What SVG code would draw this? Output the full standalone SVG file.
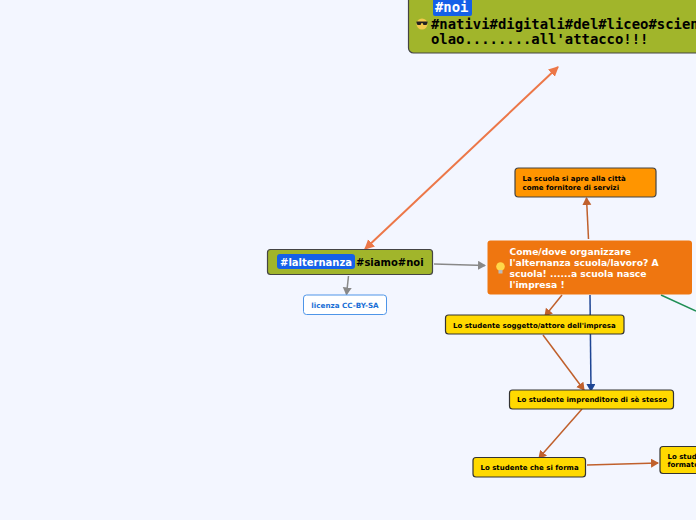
<svg xmlns="http://www.w3.org/2000/svg" width="696" height="520" viewBox="0 0 696 520">
<style>
.b{font-family:"DejaVu Sans",sans-serif;font-weight:700}
.s{font-size:7px;fill:#000}
.m{font-family:"DejaVu Sans Mono",monospace;font-weight:700;font-size:13.900px;fill:#000}
.n{stroke:#444;stroke-width:1.2}
.y{fill:#ffd900;stroke:#333;stroke-width:1.2}
.c{fill:none;stroke-width:1.500}
</style>
<defs>
<marker id="ao2" markerUnits="userSpaceOnUse" markerWidth="12" markerHeight="12" refX="9" refY="5" orient="auto-start-reverse"><path d="M0 0L10 5L0 10Z" fill="#ec7748"/></marker>
<marker id="ag" markerUnits="userSpaceOnUse" markerWidth="10" markerHeight="10" refX="7" refY="4.500" orient="auto"><path d="M0 0L8 4.500L0 9Z" fill="#888"/></marker>
<marker id="ar" markerUnits="userSpaceOnUse" markerWidth="10" markerHeight="10" refX="7" refY="4.500" orient="auto"><path d="M0 0L8 4.500L0 9Z" fill="#c0602c"/></marker>
<marker id="ab" markerUnits="userSpaceOnUse" markerWidth="10" markerHeight="10" refX="7" refY="4.500" orient="auto"><path d="M0 0L8 4.500L0 9Z" fill="#1d4594"/></marker>
</defs>
<rect width="696" height="520" fill="#f3f6ff"/>
<g id="connectors">
<path class="c" d="M558 67L365 249" stroke="#ec7748" style="stroke-width:2" marker-start="url(#ao2)" marker-end="url(#ao2)"/>
<path class="c" d="M434 264L485 265.500" stroke="#888" marker-end="url(#ag)"/>
<path class="c" d="M348.500 276L346.500 294.500" stroke="#888" marker-end="url(#ag)"/>
<path class="c" d="M588.500 239L586.500 198" stroke="#c0602c" marker-end="url(#ar)"/>
<path class="c" d="M562 295L545 316" stroke="#c0602c" marker-end="url(#ar)"/>
<path class="c" d="M590 295L591 391" stroke="#1d4594" marker-end="url(#ab)"/>
<path class="c" d="M661 295L696 311" stroke="#1f8f55"/>
<path class="c" d="M543 335L584 390" stroke="#c0602c" marker-end="url(#ar)"/>
<path class="c" d="M582 409L539 458" stroke="#c0602c" marker-end="url(#ar)"/>
<path class="c" d="M587 465L658 463" stroke="#c0602c" marker-end="url(#ar)"/>
</g>
<g id="node-top">
<rect class="n" x="408.500" y="-40" width="320" height="93" rx="5" fill="#a1b52b"/>
<rect x="433" y="-2" width="39" height="18" rx="2" fill="#1560e8"/>
<text class="m" x="435" y="12" style="fill:#fff">#noi</text>
<circle cx="422" cy="24" r="5.500" fill="#f2c94c"/>
<path d="M416.500 21.500h11v1.500l-1 2h-3l-1-2h-1l-1 2h-3l-1-2z" fill="#222"/>
<text class="m" x="431" y="29">#nativi#digitali#del#liceo#scien</text>
<text class="m" x="431" y="44">olao........all'attacco!!!</text>
</g>
<g id="node-alternanza">
<rect class="n" x="267.500" y="249.500" width="165" height="25" rx="3" fill="#a1b52b"/>
<rect x="277" y="254" width="78" height="15" rx="3" fill="#1560e8"/>
<text class="b" x="280" y="266" font-size="10" fill="#fff">#lalternanza</text>
<text class="b" x="356" y="266" font-size="10" fill="#000">#siamo#noi</text>
</g>
<g id="node-licenza">
<rect x="303.500" y="295" width="83" height="19.500" rx="3" fill="#fff" stroke="#4e95e8"/>
<text class="b" x="345" y="308" font-size="7.200" fill="#1a6fd6" text-anchor="middle">licenza CC-BY-SA</text>
</g>
<g id="node-scuola">
<rect class="n" x="515" y="168" width="141" height="29" rx="3.500" fill="#ff9500"/>
<text class="b s" x="522.500" y="181">La scuola si apre alla città</text>
<text class="b s" x="522.500" y="190">come fornitore di servizi</text>
</g>
<g id="node-come">
<rect x="487.500" y="240.500" width="204.500" height="54" rx="3" fill="#ef7610"/>
<circle cx="500.500" cy="266.500" r="4.300" fill="#ffd84a"/>
<rect x="498.500" y="270" width="4" height="3.500" fill="#bbb"/>
<g class="b" font-size="9.200" fill="#fff">
<text x="509.500" y="255">Come/dove organizzare</text>
<text x="509.500" y="266">l'alternanza scuola/lavoro? A</text>
<text x="509.500" y="277">scuola! ......a scuola nasce</text>
<text x="509.500" y="288">l'impresa !</text>
</g>
</g>
<g id="node-soggetto">
<rect class="y" x="445.500" y="315" width="178.500" height="19" rx="3"/>
<text class="b s" x="453" y="328">Lo studente soggetto/attore dell'impresa</text>
</g>
<g id="node-imprenditore">
<rect class="y" x="509.500" y="390" width="164" height="19" rx="3"/>
<text class="b s" x="517" y="402">Lo studente imprenditore di sè stesso</text>
</g>
<g id="node-forma">
<rect class="y" x="473" y="457.500" width="112.500" height="19.500" rx="3"/>
<text class="b s" x="480.500" y="470">Lo studente che si forma</text>
</g>
<g id="node-formatore">
<rect class="y" x="660" y="446.500" width="60" height="27" rx="3"/>
<text class="b s" x="667.500" y="459">Lo studente</text>
<text class="b s" x="667.500" y="467">formatore</text>
</g>
</svg>
